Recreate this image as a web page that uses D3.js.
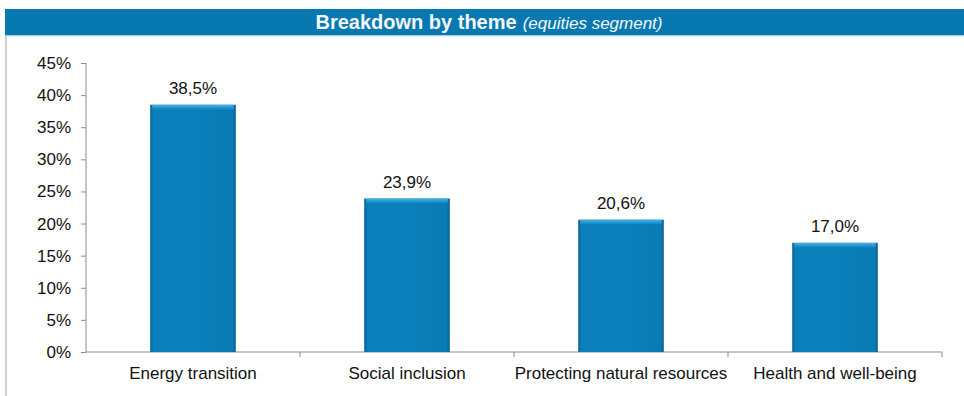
<!DOCTYPE html>
<html><head><meta charset="utf-8">
<script src="https://cdn.jsdelivr.net/npm/d3@7"></script>
<style>
html,body{margin:0;padding:0;background:#fff;}
svg{display:block;font-family:"Liberation Sans",Arial,sans-serif;}
</style></head>
<body>
<svg id="chart" width="964" height="396"></svg>
<script>
const categories = ["Energy transition","Social inclusion","Protecting natural resources","Health and well-being"];
const values = [38.5, 23.9, 20.6, 17.0];
const yTicks = [0,5,10,15,20,25,30,35,40,45];
const titleMain = "Breakdown by theme";
const titleSub = "(equities segment)";

const svg = d3.select("#chart");
const W = 964, H = 396;
const m = {left:86, right:22, top:63, bottom:44};

// header bar
svg.append("rect").attr("x",5).attr("y",9).attr("width",W-5).attr("height",26.5).attr("fill","#0779b0");
svg.append("line").attr("x1",5).attr("x2",W).attr("y1",36).attr("y2",36).attr("stroke","#cfe3ee").attr("stroke-width",1);
svg.append("line").attr("x1",6).attr("x2",6).attr("y1",36).attr("y2",H).attr("stroke","#c0c0c0").attr("stroke-width",1.5);

const title = svg.append("text").attr("x",489).attr("y",29).attr("text-anchor","middle").attr("fill","#f4f8fb");
title.append("tspan").attr("font-weight","bold").attr("font-size","20px").text(titleMain);
title.append("tspan").attr("font-style","italic").attr("font-size","17px").attr("dx",6).text(titleSub);

const x = d3.scaleBand().domain(categories).range([m.left, W-m.right]).paddingInner(0).paddingOuter(0);
const y = d3.scaleLinear().domain([0,45]).range([H-m.bottom, m.top]);

const defs = svg.append("defs");
const gh = defs.append("linearGradient").attr("id","gh").attr("x1","0").attr("x2","1").attr("y1","0").attr("y2","0");
[[0,"#0a6396"],[0.04,"#0a7fba"],[0.5,"#0a80bb"],[0.96,"#0a7bb4"],[1,"#0a5f8e"]].forEach(s=>gh.append("stop").attr("offset",s[0]).attr("stop-color",s[1]));
const gt = defs.append("linearGradient").attr("id","gt").attr("x1","0").attr("x2","0").attr("y1","0").attr("y2","1");
[[0,"#48b4e6"],[1,"#0a80bb"]].forEach(s=>gt.append("stop").attr("offset",s[0]).attr("stop-color",s[1]));

// axes
const yAxis = d3.axisLeft(y).tickValues(yTicks).tickFormat(d=>d+"%").tickSize(5).tickPadding(10);
const ya = svg.append("g").attr("transform",`translate(${m.left},0)`).call(yAxis);
ya.selectAll("path,line").attr("stroke","#8c8c8c");
ya.select(".domain").attr("d",`M0,${y(45)}V${y(0)}`);
ya.selectAll("text").attr("font-size","17px").attr("fill","#111").attr("font-family","Liberation Sans, Arial, sans-serif");

const xa = svg.append("g").attr("transform",`translate(0,${y(0)})`);
xa.append("line").attr("x1",m.left).attr("x2",W-m.right).attr("stroke","#8c8c8c");
const edges = categories.map(c=>x(c)).concat([x(categories[categories.length-1])+x.bandwidth()]);
xa.selectAll("line.t").data(edges.slice(1)).join("line").attr("class","t").attr("x1",d=>d).attr("x2",d=>d).attr("y1",0).attr("y2",5).attr("stroke","#8c8c8c");
xa.selectAll("text").data(categories).join("text").attr("x",d=>x(d)+x.bandwidth()/2).attr("y",27).attr("text-anchor","middle").attr("font-size","17px").attr("fill","#111").text(d=>d);

// bars
const bw = x.bandwidth()*0.4;
const bars = svg.append("g").selectAll("g").data(categories.map((c,i)=>({c,v:values[i]}))).join("g");
bars.append("rect").attr("x",d=>x(d.c)+(x.bandwidth()-bw)/2).attr("y",d=>y(d.v)).attr("width",bw).attr("height",d=>y(0)-y(d.v)).attr("fill","url(#gh)");
bars.append("rect").attr("x",d=>x(d.c)+(x.bandwidth()-bw)/2+2).attr("y",d=>y(d.v)).attr("width",bw-4).attr("height",5).attr("fill","url(#gt)");
bars.append("text").attr("x",d=>x(d.c)+x.bandwidth()/2).attr("y",d=>y(d.v)-11).attr("text-anchor","middle").attr("font-size","17px").attr("fill","#111").text(d=>d.v.toFixed(1).replace(".",",")+"%");
</script>
</body></html>
